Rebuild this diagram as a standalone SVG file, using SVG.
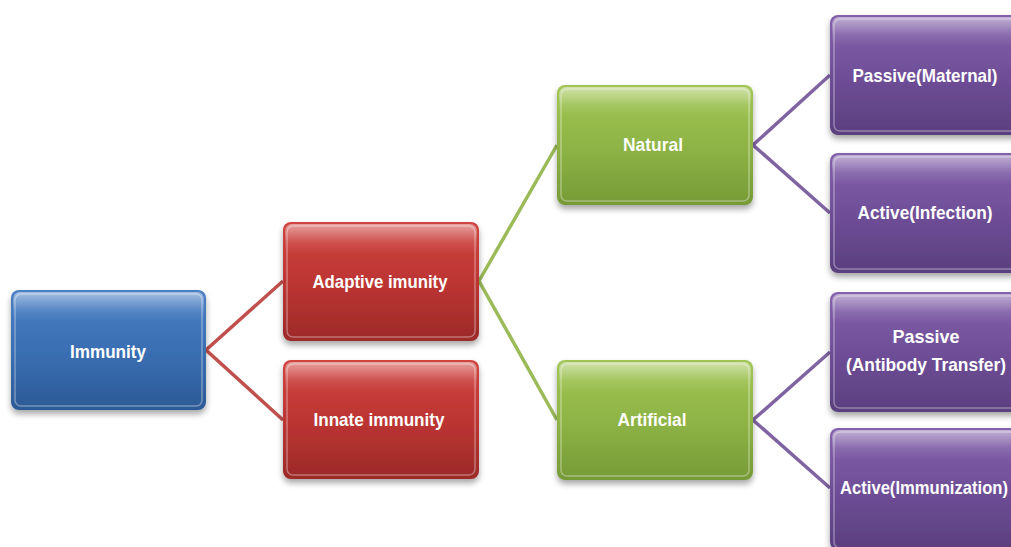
<svg xmlns="http://www.w3.org/2000/svg" width="1011" height="547" viewBox="0 0 1011 547">
<defs>
<linearGradient id="gBlue" x1="0" y1="0" x2="0" y2="1"><stop offset="0" stop-color="#4a7fc4"/><stop offset="0.5" stop-color="#3a6fb3"/><stop offset="1" stop-color="#2c5a96"/></linearGradient>
<linearGradient id="gRed" x1="0" y1="0" x2="0" y2="1"><stop offset="0" stop-color="#d04440"/><stop offset="0.5" stop-color="#bd3533"/><stop offset="1" stop-color="#9c2a28"/></linearGradient>
<linearGradient id="gGreen" x1="0" y1="0" x2="0" y2="1"><stop offset="0" stop-color="#a2c655"/><stop offset="0.5" stop-color="#8fb446"/><stop offset="1" stop-color="#769a36"/></linearGradient>
<linearGradient id="gPurple" x1="0" y1="0" x2="0" y2="1"><stop offset="0" stop-color="#8462ab"/><stop offset="0.5" stop-color="#6f4f98"/><stop offset="1" stop-color="#5a3f7e"/></linearGradient>
<linearGradient id="gloss" x1="0" y1="0" x2="0" y2="1"><stop offset="0" stop-color="#fff" stop-opacity="0.5"/><stop offset="0.6" stop-color="#fff" stop-opacity="0.1"/><stop offset="1" stop-color="#fff" stop-opacity="0"/></linearGradient>
<filter id="sh" x="-10%" y="-10%" width="120%" height="130%"><feGaussianBlur in="SourceAlpha" stdDeviation="3"/><feOffset dy="4" result="b"/><feComponentTransfer><feFuncA type="linear" slope="0.35"/></feComponentTransfer><feMerge><feMergeNode/><feMergeNode in="SourceGraphic"/></feMerge></filter>
</defs>
<style>
.box{stroke:none;filter:url(#sh)}
.gl{fill:url(#gloss)}
.hl{fill:none;stroke:#fff;stroke-opacity:0.35;stroke-width:1.5}
.lbl{font-family:"Liberation Sans",Arial,sans-serif;font-weight:bold;font-size:19px;fill:#fff;text-anchor:middle}
.c{fill:none;stroke-width:3.5;stroke-linejoin:miter}
</style>
<rect width="1011" height="547" fill="#fff"/>
<g id="connectors">
<polyline class="c" stroke="#c0504d" points="283,281 206,350 283,420"/>
<polyline class="c" stroke="#9bbb59" points="557,145 479,281 557,420"/>
<polyline class="c" stroke="#8064a2" points="830,75 753,145 830,213"/>
<polyline class="c" stroke="#8064a2" points="830,352 753,420 830,488"/>
</g>
<g id="immunity">
<rect class="box" x="11" y="290" width="195" height="120" rx="8" fill="url(#gBlue)"/>
<rect class="gl" x="13" y="292" width="191" height="30" rx="7"/>
<rect class="hl" x="15" y="294" width="187" height="112" rx="6"/>
<text class="lbl" x="108" y="358" textLength="76" lengthAdjust="spacingAndGlyphs">Immunity</text>
</g>
<g id="adaptive">
<rect class="box" x="283" y="222" width="196" height="119" rx="8" fill="url(#gRed)"/>
<rect class="gl" x="285" y="224" width="192" height="30" rx="7"/>
<rect class="hl" x="287" y="226" width="188" height="111" rx="6"/>
<text class="lbl" x="380" y="288" textLength="135" lengthAdjust="spacingAndGlyphs">Adaptive imunity</text>
</g>
<g id="innate">
<rect class="box" x="283" y="360" width="196" height="119" rx="8" fill="url(#gRed)"/>
<rect class="gl" x="285" y="362" width="192" height="30" rx="7"/>
<rect class="hl" x="287" y="364" width="188" height="111" rx="6"/>
<text class="lbl" x="379" y="426" textLength="131" lengthAdjust="spacingAndGlyphs">Innate immunity</text>
</g>
<g id="natural">
<rect class="box" x="557" y="85" width="196" height="120" rx="8" fill="url(#gGreen)"/>
<rect class="gl" x="559" y="87" width="192" height="30" rx="7"/>
<rect class="hl" x="561" y="89" width="188" height="112" rx="6"/>
<text class="lbl" x="653" y="151" textLength="60" lengthAdjust="spacingAndGlyphs">Natural</text>
</g>
<g id="artificial">
<rect class="box" x="557" y="360" width="196" height="120" rx="8" fill="url(#gGreen)"/>
<rect class="gl" x="559" y="362" width="192" height="30" rx="7"/>
<rect class="hl" x="561" y="364" width="188" height="112" rx="6"/>
<text class="lbl" x="652" y="426" textLength="69" lengthAdjust="spacingAndGlyphs">Artificial</text>
</g>
<g id="passive-maternal">
<rect class="box" x="830" y="15" width="196" height="120" rx="8" fill="url(#gPurple)"/>
<rect class="gl" x="832" y="17" width="192" height="30" rx="7"/>
<rect class="hl" x="834" y="19" width="188" height="112" rx="6"/>
<text class="lbl" x="925" y="82" textLength="145" lengthAdjust="spacingAndGlyphs">Passive(Maternal)</text>
</g>
<g id="active-infection">
<rect class="box" x="830" y="153" width="196" height="120" rx="8" fill="url(#gPurple)"/>
<rect class="gl" x="832" y="155" width="192" height="30" rx="7"/>
<rect class="hl" x="834" y="157" width="188" height="112" rx="6"/>
<text class="lbl" x="925" y="219" textLength="135" lengthAdjust="spacingAndGlyphs">Active(Infection)</text>
</g>
<g id="passive-antibody">
<rect class="box" x="830" y="292" width="196" height="120" rx="8" fill="url(#gPurple)"/>
<rect class="gl" x="832" y="294" width="192" height="30" rx="7"/>
<rect class="hl" x="834" y="296" width="188" height="112" rx="6"/>
<text class="lbl" x="926" y="343" textLength="67" lengthAdjust="spacingAndGlyphs">Passive</text>
<text class="lbl" x="926" y="371" textLength="160" lengthAdjust="spacingAndGlyphs">(Antibody Transfer)</text>
</g>
<g id="active-immunization">
<rect class="box" x="830" y="428" width="196" height="122" rx="8" fill="url(#gPurple)"/>
<rect class="gl" x="832" y="430" width="192" height="30" rx="7"/>
<rect class="hl" x="834" y="432" width="188" height="116" rx="6"/>
<text class="lbl" x="924" y="494" textLength="168" lengthAdjust="spacingAndGlyphs">Active(Immunization)</text>
</g>
</svg>
